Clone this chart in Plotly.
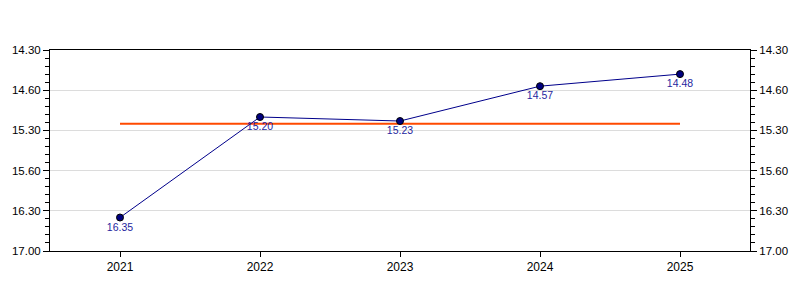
import plotly.graph_objects as go

years = ["2021", "2022", "2023", "2024", "2025"]
# times in seconds (mm:ss shown as mm.ss)
times_sec = [995, 920, 923, 897, 888]
time_labels = ["16.35", "15.20", "15.23", "14.57", "14.48"]
avg_sec = [925, 925]
tick_vals = [870, 900, 930, 960, 990, 1020]
tick_text = ["14.30", "14.60", "15.30", "15.60", "16.30", "17.00"]

xs = list(range(len(years)))
yfont = dict(family="Liberation Sans, Arial, sans-serif", size=11.5, color="black")
xfont = dict(family="Liberation Sans, Arial, sans-serif", size=12, color="black")

fig = go.Figure()
fig.add_trace(go.Scatter(
    x=[xs[0], xs[-1]], y=avg_sec, mode="lines",
    line=dict(color="#FF4A00", width=2), hoverinfo="skip", showlegend=False))
fig.add_trace(go.Scatter(
    x=xs, y=times_sec, mode="lines+markers+text",
    line=dict(color="#00008B", width=1),
    marker=dict(color="#000080", size=7, line=dict(color="black", width=1)),
    text=time_labels, textposition="bottom center",
    textfont=dict(family="Liberation Sans, Arial, sans-serif", size=10.5, color="#1F1FA0"),
    showlegend=False))
# invisible trace for right axis
fig.add_trace(go.Scatter(x=xs, y=times_sec, yaxis="y2", mode="markers",
                         marker=dict(opacity=0), hoverinfo="skip", showlegend=False))

yax = dict(range=[1020, 870], tickvals=tick_vals, ticktext=tick_text,
           ticks="outside", ticklen=6, tickcolor="black",
           showline=True, linecolor="black", linewidth=1,
           tickfont=yfont,
           minor=dict(ticks="outside", dtick=6, ticklen=4, tickcolor="black", showgrid=False))
fig.update_layout(
    width=800, height=300,
    margin=dict(l=50, r=50, t=50, b=49),
    paper_bgcolor="white", plot_bgcolor="white",
    xaxis=dict(range=[-0.5, 4.5], tickvals=xs, ticktext=years,
               ticks="outside", ticklen=5, tickcolor="black",
               showline=True, linecolor="black", linewidth=1, mirror=True,
               showgrid=False, zeroline=False, tickfont=xfont),
    yaxis=dict(**yax, showgrid=True, gridcolor="#DCDCDC", gridwidth=1, zeroline=False),
    yaxis2=dict(**yax, overlaying="y", side="right", showgrid=False, zeroline=False),
)
fig.write_html("out.html")
